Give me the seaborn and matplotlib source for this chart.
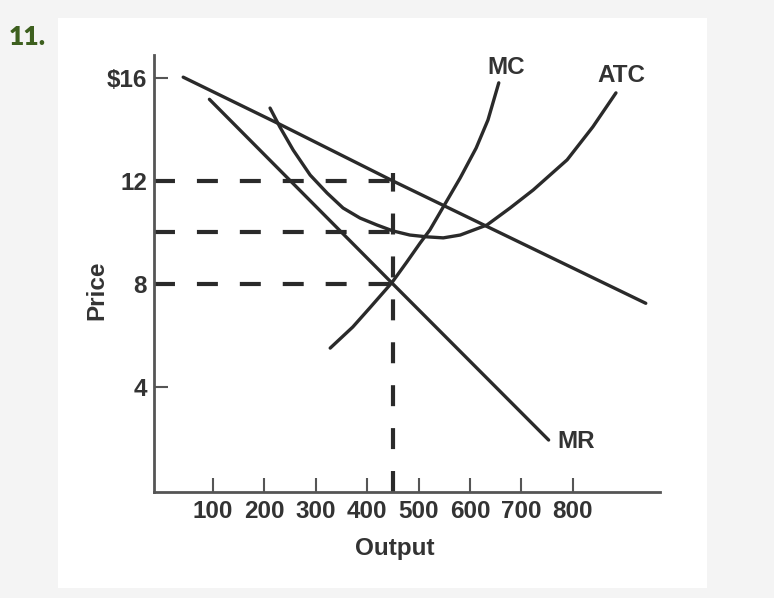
import matplotlib
matplotlib.use("Agg")
import matplotlib.pyplot as plt
from matplotlib.patches import Rectangle
import seaborn as sns

# ---------------- data ----------------
demand_q = [42, 230, 450, 626, 942]
demand_p = [16.03, 14.2, 12.0, 10.3, 7.25]

mr_q = [93, 450, 753]
mr_p = [15.17, 8.0, 1.94]

mc_q = [328, 372, 405, 448, 477, 503, 522, 548, 581, 612, 635, 656]
mc_p = [5.51, 6.33, 7.07, 8.05, 8.85, 9.59, 10.10, 10.99, 12.12, 13.28, 14.37, 15.81]

atc_q = [211, 230, 256, 289, 322, 353, 386, 419, 450, 483, 516, 548, 581,
         633, 678, 723, 789, 839, 884]
atc_p = [14.83, 14.10, 13.20, 12.23, 11.53, 10.95, 10.56, 10.29, 10.06, 9.90, 9.83, 9.79, 9.90,
         10.29, 10.95, 11.65, 12.82, 14.10, 15.42]

guide_prices = [12, 10, 8]
guide_q = 450

x_ticks = [100, 200, 300, 400, 500, 600, 700, 800]
x_tick_labels = ["100", "200", "300", "400", "500", "600", "700", "800"]
y_ticks = [4, 8, 12, 16]
y_tick_labels = ["4", "8", "12", "$16"]

curve_labels = [("MC", 670, 16.39), ("ATC", 894, 16.1), ("MR", 806, 1.9)]

# ---------------- style ----------------
sns.set_style("white")
plt.rcParams["font.family"] = ["Liberation Sans", "DejaVu Sans"]
plt.rcParams["font.weight"] = "bold"
plt.rcParams["lines.scale_dashes"] = False

W, H = 774, 598
ink = "#2a2a2a"
axis_c = "#555555"
text_c = "#333333"
fs = 17.5

fig = plt.figure(figsize=(W / 100, H / 100), dpi=100)
fig.patch.set_facecolor("#f4f4f4")
fig.patches.append(Rectangle((58 / W, (H - 588) / H), (707 - 58) / W, (588 - 18) / H,
                             transform=fig.transFigure, facecolor="white",
                             edgecolor="none", zorder=-10))

# axes placement in pixels
ax_l, ax_r, ax_b, ax_t = 154, 700, 492, 20
ax = fig.add_axes([ax_l / W, (H - ax_b) / H, (ax_r - ax_l) / W, (ax_b - ax_t) / H])
ax.set_facecolor("none")
ax.set_zorder(5)

q0, q1 = -14.8, 1047.5
p0, p1 = -0.078, 18.25

# dashed guides
dash = (0, (15.1, 15.8))
ax.hlines(guide_prices, q0, 444, colors=ink, linewidth=3.0, linestyles=dash, zorder=2)
ax.vlines(guide_q, p0, 12.3, colors=ink, linewidth=3.0, linestyles=dash, zorder=2)

# curves
for q, p in [(demand_q, demand_p), (mr_q, mr_p), (mc_q, mc_p), (atc_q, atc_p)]:
    sns.lineplot(x=q, y=p, ax=ax, color=ink, linewidth=2.4,
                 solid_capstyle="round", solid_joinstyle="round", zorder=3)

for name, qx, py in curve_labels:
    ax.text(qx, py, name, ha="center", va="center", fontsize=fs,
            fontweight="bold", color=text_c)

ax.set_xlim(q0, q1)
ax.set_ylim(p0, p1)

for s in ["top", "right"]:
    ax.spines[s].set_visible(False)
for s in ["left", "bottom"]:
    ax.spines[s].set_color(axis_c)
    ax.spines[s].set_linewidth(2.0)
ax.spines["left"].set_bounds(p0, 16.9)
ax.spines["bottom"].set_bounds(q0, 970)

ax.set_xticks(x_ticks)
ax.set_xticklabels(x_tick_labels)
ax.set_yticks(y_ticks)
ax.set_yticklabels(y_tick_labels)
ax.tick_params(axis="both", direction="in", length=10, width=1.5, color=axis_c,
               labelsize=fs, labelcolor=text_c, bottom=True, left=True)
ax.tick_params(axis="x", pad=6)
ax.tick_params(axis="y", pad=5)
for lbl in ax.get_xticklabels() + ax.get_yticklabels():
    lbl.set_fontweight("bold")

ax.set_xlabel("Output", fontsize=fs, fontweight="bold", color=text_c, va="center")
ax.xaxis.set_label_coords((395 - ax_l) / (ax_r - ax_l), (ax_b - 548.7) / (ax_b - ax_t))
ax.set_ylabel("Price", fontsize=fs, fontweight="bold", color=text_c, va="center")
ax.yaxis.set_label_coords((97 - ax_l) / (ax_r - ax_l), (ax_b - 290) / (ax_b - ax_t))

fig.text(9 / W, (H - 45) / H, "11.", fontsize=19, fontweight="heavy",
         color="#3d5f1e", family=["Lato", "DejaVu Sans"], va="baseline", ha="left")

fig.savefig("out.png", dpi=100, facecolor=fig.get_facecolor())
